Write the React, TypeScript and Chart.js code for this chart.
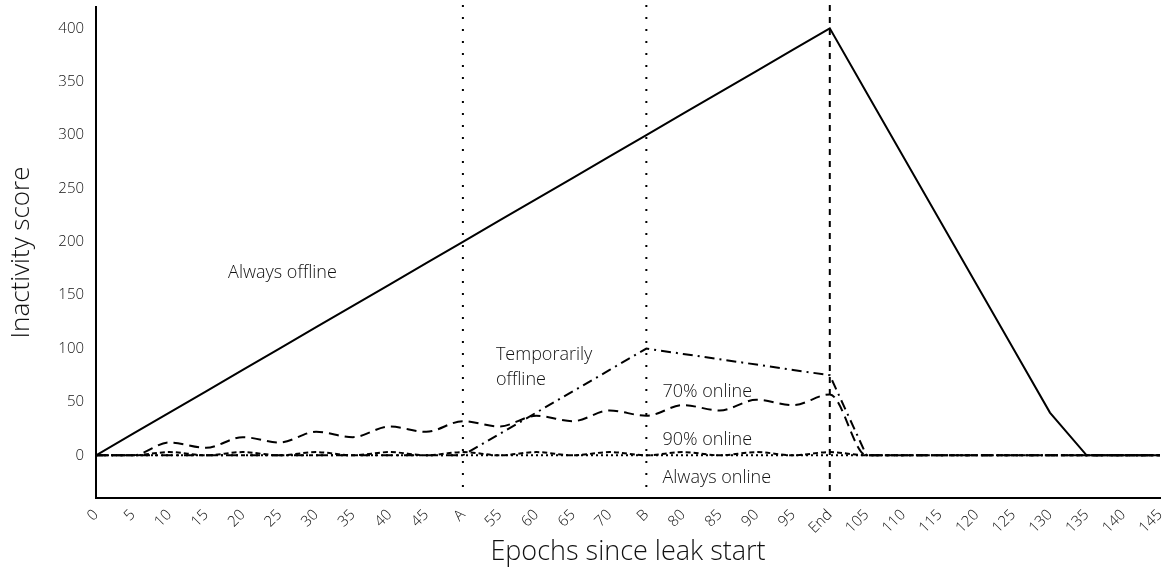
import React, { useEffect, useRef } from "react";
import { Chart, registerables } from "chart.js";

Chart.register(...registerables);

const epochs = [0, 5, 10, 15, 20, 25, 30, 35, 40, 45, 50, 55, 60, 65, 70, 75, 80, 85, 90, 95, 100, 105, 110, 115, 120, 125, 130, 135, 140, 145];
const alwaysOffline = [0, 20, 40, 60, 80, 100, 120, 140, 160, 180, 200, 220, 240, 260, 280, 300, 320, 340, 360, 380, 400, 340, 280, 220, 160, 100, 40, 0, 0, 0];
const temporarilyOffline = [0, 0, 0, 0, 0, 0, 0, 0, 0, 0, 0, 20, 40, 60, 80, 100, 95, 90, 85, 80, 75, 0, 0, 0, 0, 0, 0, 0, 0, 0];
const seventyOnline = [0, 0, 12, 7, 17, 12, 22, 17, 27, 22, 32, 27, 37, 32, 42, 37, 47, 42, 52, 47, 57, 0, 0, 0, 0, 0, 0, 0, 0, 0];
const ninetyOnline = [0, 0, 3, 0, 3, 0, 3, 0, 3, 0, 3, 0, 3, 0, 3, 0, 3, 0, 3, 0, 3, 0, 0, 0, 0, 0, 0, 0, 0, 0];
const alwaysOnline = [0, 0, 0, 0, 0, 0, 0, 0, 0, 0, 0, 0, 0, 0, 0, 0, 0, 0, 0, 0, 0, 0, 0, 0, 0, 0, 0, 0, 0, 0];

const specialTicks: Record<number, string> = { 50: "A", 75: "B", 100: "End" };
const yTicks = [0, 50, 100, 150, 200, 250, 300, 350, 400];
const markerEpochs = [50, 75, 100];
const markerDashes = [[2, 10], [2, 10], [6, 6]];

const labelTexts = ["Always offline", "Temporarily", "offline", "70% online", "90% online", "Always online"];
const labelX = [18, 54.5, 54.5, 77.2, 77.2, 77.2];
const labelY = [171, 94, 71, 59, 14, -21];

const FONT = "'Open Sans', 'DejaVu Sans', sans-serif";

const toPoints = (vals: number[]) => vals.map((v, i) => ({ x: epochs[i], y: v }));

const overlayPlugin = {
  id: "overlay",
  beforeDatasetsDraw(chart: any) {
    const { ctx, scales } = chart;
    const xs = scales.x;
    const ys = scales.y;
    ctx.save();
    ctx.strokeStyle = "#000";
    ctx.lineWidth = 2;
    markerEpochs.forEach((e, i) => {
      const px = xs.getPixelForValue(e);
      ctx.setLineDash(markerDashes[i]);
      ctx.beginPath();
      ctx.moveTo(px, chart.chartArea.top - 2);
      ctx.lineTo(px, ys.getPixelForValue(-34));
      ctx.stroke();
    });
    ctx.restore();
  },
  afterDatasetsDraw(chart: any) {
    const { ctx, scales } = chart;
    ctx.save();
    ctx.fillStyle = "#111";
    ctx.font = `300 18px ${FONT}`;
    ctx.textAlign = "left";
    ctx.textBaseline = "middle";
    labelTexts.forEach((t, i) => {
      ctx.fillText(t, scales.x.getPixelForValue(labelX[i]), scales.y.getPixelForValue(labelY[i]));
    });
    ctx.restore();
  },
};

export default function App() {
  const ref = useRef<HTMLCanvasElement | null>(null);
  useEffect(() => {
    if (!ref.current) return;
    const base = { pointRadius: 0, borderColor: "#000", borderWidth: 2, fill: false };
    const chart = new Chart(ref.current, {
      type: "line",
      data: {
        datasets: [
          { ...base, label: "Always online", data: toPoints(alwaysOnline), borderDash: [2, 3] },
          { ...base, label: "90% online", data: toPoints(ninetyOnline), borderDash: [5, 3], cubicInterpolationMode: "monotone" },
          { ...base, label: "70% online", data: toPoints(seventyOnline), borderDash: [10, 6], cubicInterpolationMode: "monotone" },
          { ...base, label: "Temporarily offline", data: toPoints(temporarilyOffline), borderDash: [10, 5, 2, 5] },
          { ...base, label: "Always offline", data: toPoints(alwaysOffline) },
        ],
      },
      options: {
        animation: false,
        responsive: false,
        layout: { padding: { top: 7, right: 9, left: 0, bottom: 0 } },
        plugins: { legend: { display: false }, tooltip: { enabled: false } },
        scales: {
          x: {
            type: "linear",
            min: 0,
            max: 145,
            afterBuildTicks(scale: any) {
              scale.ticks = epochs.map((v) => ({ value: v }));
            },
            afterFit(scale: any) {
              scale.height = 71;
              scale.paddingLeft = 0;
              scale.paddingRight = 0;
            },
            ticks: {
              autoSkip: false,
              minRotation: 45,
              maxRotation: 45,
              padding: 8,
              color: "#111",
              font: { family: FONT, size: 15, weight: "300" },
              callback: (v: any) => specialTicks[v] ?? String(v),
            },
            grid: { display: false, drawTicks: false },
            border: { display: true, color: "#000", width: 2 },
            title: {
              display: true,
              text: "Epochs since leak start",
              color: "#111",
              font: { family: FONT, size: 27, weight: "300" },
              padding: { top: 0, bottom: 0 },
            },
          },
          y: {
            type: "linear",
            min: -40,
            max: 420,
            afterBuildTicks(scale: any) {
              scale.ticks = yTicks.map((v) => ({ value: v }));
            },
            afterFit(scale: any) {
              scale.width = 96;
              scale.paddingTop = 0;
              scale.paddingBottom = 0;
            },
            ticks: {
              padding: 12,
              color: "#111",
              font: { family: FONT, size: 15, weight: "300" },
            },
            grid: { display: false, drawTicks: false },
            border: { display: true, color: "#000", width: 2 },
            title: {
              display: true,
              text: "Inactivity score",
              color: "#111",
              font: { family: FONT, size: 26, weight: "300" },
              padding: { top: 6, bottom: 0 },
            },
          },
        },
      },
      plugins: [overlayPlugin],
    } as any);
    return () => chart.destroy();
  }, []);
  return (
    <div style={{ position: "fixed", left: 0, top: 0, width: 1169, height: 569, background: "#fff" }}>
      <canvas ref={ref} width={1169} height={569} style={{ width: 1169, height: 569 }} />
    </div>
  );
}
